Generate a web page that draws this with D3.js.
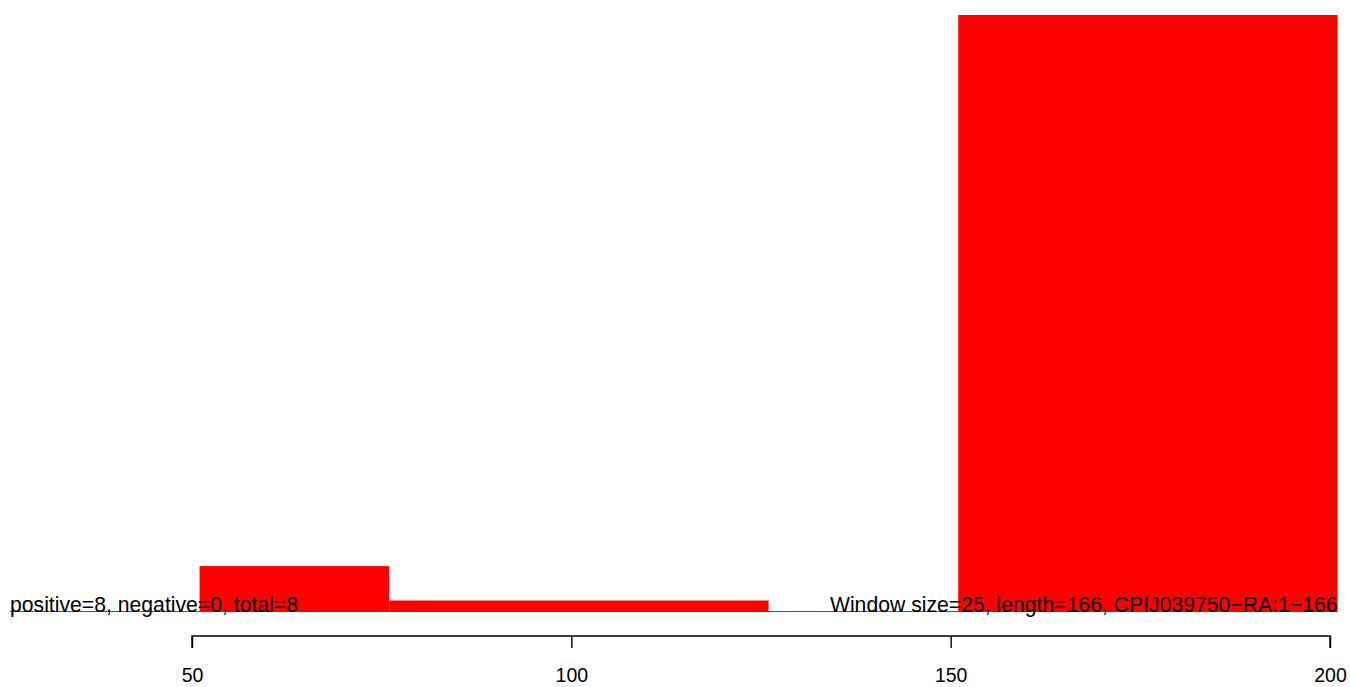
<!DOCTYPE html>
<html><head><meta charset="utf-8">
<script src="https://cdn.jsdelivr.net/npm/d3@7"></script>
<style>html,body{margin:0;padding:0;background:#fff;}svg{display:block;}</style>
</head><body>
<script>
// Data
const binStarts = [51, 76, 151];
const binEnds = [76, 126, 201];
const binValues = [4, 1, 52];
const xTicks = [50, 100, 150, 200];
const leftLabel = "positive=8, negative=0, total=8";
const rightLabel = "Window size=25, length=166, CPIJ039750\u2212RA:1\u2212166";

const W = 1350, H = 687;
const svg = d3.select("body").append("svg").attr("width", W).attr("height", H);

const x = d3.scaleLinear().domain([50, 200]).range([192, 1330]);
const y = d3.scaleLinear().domain([0, 52]).range([612, 15]);

// baseline
svg.append("line").attr("x1", 10).attr("x2", x(201))
  .attr("y1", y(0) - 0.5).attr("y2", y(0) - 0.5)
  .attr("stroke", "#555").attr("stroke-width", 1);

// bars
const bars = binValues.map((v, i) => ({s: binStarts[i], e: binEnds[i], v}));
svg.selectAll("rect.bar").data(bars).enter().append("rect")
  .attr("class", "bar")
  .attr("x", d => x(d.s)).attr("width", d => x(d.e) - x(d.s))
  .attr("y", d => y(d.v)).attr("height", d => y(0) - y(d.v))
  .attr("fill", "#ff0000");

// annotation texts (drawn over bars)
svg.append("text").attr("x", 10).attr("y", y(0))
  .attr("font-family", "Liberation Sans, Arial, sans-serif").attr("font-size", 21.2)
  .attr("fill", "#000").text(leftLabel);
svg.append("text").attr("x", x(201)).attr("y", y(0)).attr("text-anchor", "end")
  .attr("font-family", "Liberation Sans, Arial, sans-serif").attr("font-size", 21.2)
  .attr("fill", "#000").text(rightLabel);

// x axis
const axis = d3.axisBottom(x).tickValues(xTicks).tickSize(12).tickPadding(20)
  .tickFormat(d3.format("d"));
const g = svg.append("g").attr("transform", "translate(0,636)").call(axis);
g.select(".domain").attr("stroke", "#000").attr("stroke-width", 1.4)
  .attr("d", `M${x(50)},12V0H${x(200)}V12`);
g.selectAll(".tick line").attr("stroke", "#000").attr("stroke-width", 1.4);
g.selectAll(".tick text").attr("font-family", "Liberation Sans, Arial, sans-serif")
  .attr("font-size", 19.5).attr("fill", "#000").attr("dy", "0.71em");
</script>
</body></html>
